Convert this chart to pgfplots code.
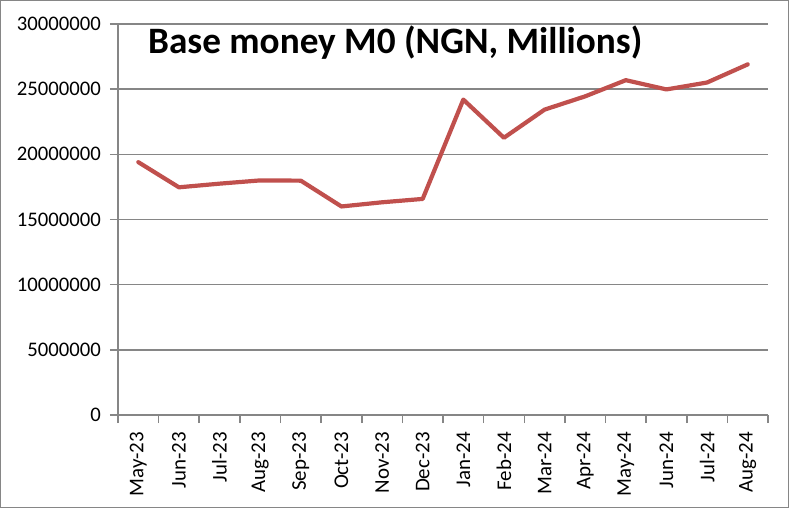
\documentclass[border=0pt]{standalone}
\usepackage{fontspec}
\setmainfont{Carlito}
\usepackage{pgfplots}
\pgfplotsset{compat=1.18}
\definecolor{gridgray}{HTML}{868686}
\definecolor{linered}{HTML}{C0504D}
\begin{document}
\begin{tikzpicture}[x=1bp,y=1bp]
\begin{axis}[
  at={(0,0)}, anchor=south west,
  scale only axis, width=650bp, height=391bp,
  xmin=-0.5, xmax=15.5, ymin=0, ymax=30000000,
  axis x line*=bottom, axis y line*=left,
  axis line style={gridgray, line width=1.5bp},
  xtick={0,...,15},
  xticklabels={May-23,Jun-23,Jul-23,Aug-23,Sep-23,Oct-23,Nov-23,Dec-23,Jan-24,Feb-24,Mar-24,Apr-24,May-24,Jun-24,Jul-24,Aug-24},
  x tick label style={rotate=90, anchor=east, font=\fontsize{21}{24}\selectfont, inner sep=0pt, xshift=-9bp},
  major x tick style={draw=none},
  minor xtick={-0.5,0.5,...,15.5},
  minor x tick style={gridgray, line width=1.5bp},
  minor tick length=8bp,
  ytick={0,5000000,...,30000000},
  yticklabels={0,5000000,10000000,15000000,20000000,25000000,30000000},
  y tick label style={font=\fontsize{20.8}{24}\selectfont, inner sep=0pt, xshift=-9bp},
  ytick style={gridgray, line width=1.5bp},
  major tick length=8bp,
  tick align=outside,
  ymajorgrids, grid style={gridgray, line width=1.5bp},
  scaled y ticks=false,
  clip=false,
]
\addplot[linered, line width=4.2bp, line join=round, line cap=round] coordinates {
(0,19400000) (1,17470000) (2,17750000) (3,18000000) (4,17980000) (5,16000000)
(6,16320000) (7,16580000) (8,24200000) (9,21270000) (10,23430000) (11,24450000)
(12,25690000) (13,24980000) (14,25510000) (15,26900000)
};
\node[anchor=west, inner sep=0pt, font=\fontsize{37.4}{43}\selectfont\bfseries] at (rel axis cs:0.046,0.953) {Base money M0 (NGN, Millions)};
\end{axis}
\draw[gridgray, line width=1.5bp] (-117.25bp,-92.25bp) rectangle (670.25bp,414.25bp);
\end{tikzpicture}
\end{document}
